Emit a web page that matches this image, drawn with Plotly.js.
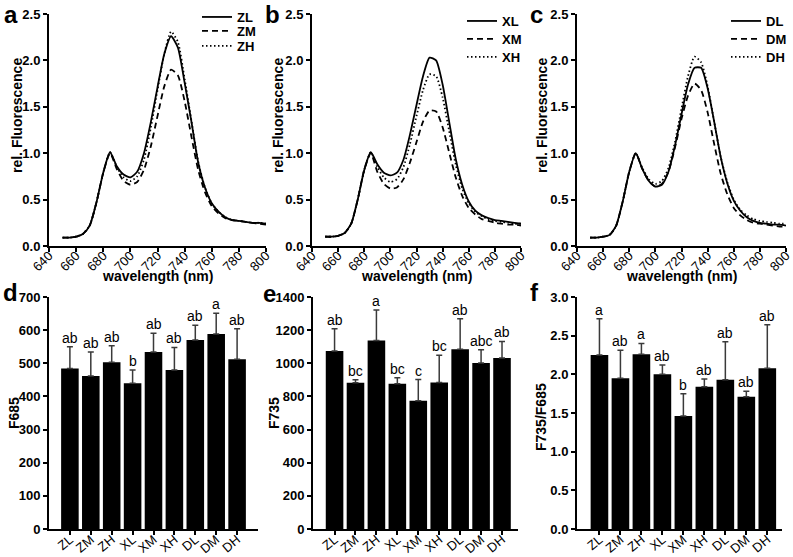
<!DOCTYPE html>
<html>
<head>
<meta charset="utf-8">
<script src="https://cdn.plot.ly/plotly-3.0.1.min.js"></script>
<style>
  html, body { margin: 0; padding: 0; background: #fff; }
  #fig { width: 793px; height: 557px; }
</style>
</head>
<body>
<div id="fig"></div>
<script>
// longitudes de onda (nm)
const wavelength = [650, 655, 660, 665, 670, 675, 680, 685, 690, 695, 700, 705, 710, 715, 720,
    725, 730, 735, 740, 745, 750, 755, 760, 765, 770, 775, 780, 785, 790, 795, 800];

// panel a
const ZL = [0.09, 0.09, 0.10, 0.13, 0.22, 0.47, 0.79, 1.01, 0.86, 0.77, 0.74, 0.80, 1.00, 1.33, 1.71,
    2.07, 2.26, 2.14, 1.76, 1.34, 0.90, 0.63, 0.46, 0.37, 0.31, 0.28, 0.27, 0.26, 0.25, 0.25, 0.24];
const ZM = [0.09, 0.09, 0.10, 0.13, 0.22, 0.47, 0.79, 1.00, 0.83, 0.70, 0.66, 0.69, 0.82, 1.07, 1.40,
    1.72, 1.90, 1.84, 1.56, 1.18, 0.82, 0.58, 0.43, 0.35, 0.30, 0.28, 0.27, 0.26, 0.25, 0.24, 0.23];
const ZH = [0.09, 0.09, 0.10, 0.13, 0.22, 0.47, 0.79, 1.01, 0.85, 0.74, 0.70, 0.75, 0.93, 1.27, 1.68,
    2.07, 2.31, 2.20, 1.80, 1.35, 0.91, 0.63, 0.46, 0.37, 0.31, 0.28, 0.27, 0.26, 0.25, 0.25, 0.24];

// panel b
const XL = [0.10, 0.10, 0.11, 0.14, 0.24, 0.50, 0.82, 1.01, 0.88, 0.79, 0.76, 0.79, 0.93, 1.20, 1.52,
    1.83, 2.03, 2.00, 1.74, 1.34, 0.94, 0.66, 0.48, 0.38, 0.33, 0.30, 0.28, 0.27, 0.26, 0.25, 0.24];
const XM = [0.10, 0.10, 0.11, 0.14, 0.24, 0.50, 0.82, 1.00, 0.80, 0.67, 0.62, 0.63, 0.72, 0.90, 1.12,
    1.34, 1.46, 1.45, 1.28, 1.01, 0.74, 0.54, 0.41, 0.34, 0.29, 0.27, 0.25, 0.24, 0.23, 0.23, 0.22];
const XH = [0.10, 0.10, 0.11, 0.14, 0.24, 0.50, 0.82, 1.01, 0.85, 0.74, 0.69, 0.72, 0.85, 1.10, 1.40,
    1.68, 1.85, 1.83, 1.60, 1.24, 0.88, 0.62, 0.46, 0.37, 0.32, 0.29, 0.27, 0.26, 0.25, 0.24, 0.24];

// panel c
const DL = [0.09, 0.09, 0.10, 0.12, 0.22, 0.48, 0.80, 1.00, 0.83, 0.70, 0.64, 0.66, 0.80, 1.08, 1.42,
    1.74, 1.92, 1.92, 1.70, 1.34, 0.96, 0.68, 0.49, 0.38, 0.31, 0.27, 0.25, 0.24, 0.23, 0.23, 0.22];
const DM = [0.09, 0.09, 0.10, 0.12, 0.22, 0.48, 0.80, 1.00, 0.83, 0.70, 0.64, 0.67, 0.80, 1.06, 1.37,
    1.62, 1.75, 1.68, 1.44, 1.10, 0.78, 0.56, 0.41, 0.33, 0.28, 0.25, 0.24, 0.23, 0.22, 0.21, 0.21];
const DH = [0.09, 0.09, 0.10, 0.12, 0.22, 0.48, 0.80, 1.00, 0.84, 0.72, 0.67, 0.70, 0.84, 1.12, 1.48,
    1.83, 2.04, 1.98, 1.72, 1.34, 0.96, 0.69, 0.50, 0.39, 0.33, 0.29, 0.27, 0.26, 0.25, 0.24, 0.24];

// barras (d, e, f)
const grupos = ['ZL', 'ZM', 'ZH', 'XL', 'XM', 'XH', 'DL', 'DM', 'DH'];
const F685 = [484, 462, 503, 440, 534, 480, 570, 588, 512];
const F685err = [66, 72, 50, 40, 57, 68, 45, 63, 92];
const F685letras = ['ab', 'ab', 'ab', 'b', 'ab', 'ab', 'ab', 'a', 'ab'];

const F735 = [1074, 882, 1138, 876, 774, 884, 1084, 1002, 1032];
const F735err = [134, 18, 184, 36, 128, 164, 184, 80, 100];
const F735letras = ['ab', 'bc', 'a', 'bc', 'c', 'bc', 'ab', 'abc', 'ab'];

const ratio = [2.25, 1.95, 2.26, 2.00, 1.46, 1.84, 1.93, 1.71, 2.08];
const ratioErr = [0.47, 0.36, 0.14, 0.12, 0.29, 0.10, 0.49, 0.07, 0.56];
const ratioLetras = ['a', 'ab', 'a', 'ab', 'b', 'ab', 'ab', 'ab', 'ab'];

const FONT = 'Liberation Sans, Arial, sans-serif';
const W = 793, H = 557;
const px = v => v / W;          // pixel -> paper (x)
const py = v => (H - v) / H;    // pixel -> paper (y)

const estilos = ['solid', '6px,4px', '1.5px,2.5px'];

const espectros = [
    { nombres: ['ZL', 'ZM', 'ZH'], series: [ZL, ZM, ZH], legX: 197, legY: [17, 31, 46], tituloX: 17 },
    { nombres: ['XL', 'XM', 'XH'], series: [XL, XM, XH], legX: 462, legY: [21, 39, 57], tituloX: 278 },
    { nombres: ['DL', 'DM', 'DH'], series: [DL, DM, DH], legX: 726, legY: [21, 39, 57], tituloX: 542 }
];

const data = [];
const layout = {
    width: W, height: H,
    margin: { l: 0, r: 0, t: 0, b: 0 },
    paper_bgcolor: 'white',
    plot_bgcolor: 'white',
    font: { family: FONT, color: 'black', size: 12 },
    showlegend: true,
    annotations: []
};

// ejes base
const ejeBase = {
    showline: true, linecolor: 'black', linewidth: 2,
    ticks: 'outside', ticklen: 4, tickwidth: 2, tickcolor: 'black',
    showgrid: false, zeroline: false, fixedrange: true
};

const dominiosX = [[49, 266], [312, 521], [577, 786]];
const dominiosXBar = [[49, 258], [313, 517.5], [577, 782]];
const rangosBar = [[-1, 9], [-1.03, 8.74], [-1.07, 8.70]];
const filaArriba = [py(246), py(14)];
const filaAbajo = [py(529), py(297)];

function titulo(texto, x, y, vertical) {
    layout.annotations.push({
        xref: 'paper', yref: 'paper',
        x: px(x), y: py(y),
        xanchor: 'center', yanchor: 'middle',
        textangle: vertical ? -90 : 0,
        text: texto, showarrow: false,
        font: { family: FONT, size: 14, weight: 'bold' }
    });
}

// espectros
espectros.forEach((p, k) => {
    const n = k + 1;
    const xa = n === 1 ? 'x' : 'x' + n;
    const ya = n === 1 ? 'y' : 'y' + n;
    p.series.forEach((s, i) => {
        const idx = k * 3 + i + 1;
        const legId = idx === 1 ? 'legend' : 'legend' + idx;
        data.push({
            x: wavelength,
            y: s,
            name: p.nombres[i],
            type: 'scatter',
            mode: 'lines',
            line: { color: 'black', width: 1.8, dash: estilos[i], shape: 'spline', smoothing: 0.6 },
            xaxis: xa, yaxis: ya,
            legend: legId,
            hoverinfo: 'skip'
        });
        layout[legId] = {
            x: px(p.legX), xanchor: 'left',
            y: py(p.legY[i]), yanchor: 'middle',
            bgcolor: 'rgba(0,0,0,0)',
            font: { family: FONT, size: 13, weight: 'bold', color: 'black' }
        };
    });
    layout['xaxis' + (n === 1 ? '' : n)] = Object.assign({}, ejeBase, {
        domain: [px(dominiosX[k][0]), px(dominiosX[k][1])],
        anchor: ya,
        range: [640, 800], dtick: 20, tick0: 640,
        tickangle: -45,
        ticklabelstandoff: -9,
        tickfont: { family: FONT, size: 13, color: 'black' }
    });
    layout['yaxis' + (n === 1 ? '' : n)] = Object.assign({}, ejeBase, {
        domain: filaArriba,
        anchor: xa,
        range: [0, 2.5], dtick: 0.5, tickformat: '.1f',
        tickfont: { family: FONT, size: 13, weight: 'bold', color: 'black' }
    });
    titulo('rel. Fluorescence', p.tituloX, 116, true);
    titulo('wavelength (nm)', (dominiosX[k][0] + dominiosX[k][1]) / 2, 276, false);
});

// barras
const barras = [
    { y: F685, err: F685err, letras: F685letras, titulo: 'F685', rango: [0, 700], dtick: 100, fmt: '', tx: 14, ty: 413 },
    { y: F735, err: F735err, letras: F735letras, titulo: 'F735', rango: [0, 1400], dtick: 200, fmt: '', tx: 274, ty: 413 },
    { y: ratio, err: ratioErr, letras: ratioLetras, titulo: 'F735/F685', rango: [0, 3], dtick: 0.5, fmt: '.1f', tx: 541, ty: 417 }
];

barras.forEach((b, k) => {
    const n = k + 4;
    data.push({
        x: grupos,
        y: b.y,
        type: 'bar',
        width: 0.84,
        marker: { color: 'black', line: { width: 0 } },
        error_y: {
            type: 'data', symmetric: false,
            array: b.err, arrayminus: b.err.map(() => 0),
            color: '#3a3a3a', thickness: 1.5, width: 3
        },
        xaxis: 'x' + n, yaxis: 'y' + n,
        showlegend: false,
        hoverinfo: 'skip'
    });
    layout['xaxis' + n] = Object.assign({}, ejeBase, {
        domain: [px(dominiosXBar[k][0]), px(dominiosXBar[k][1])],
        anchor: 'y' + n,
        type: 'category',
        range: rangosBar[k],
        tickangle: -40,
        ticklabelstandoff: -8,
        tickfont: { family: FONT, size: 13, color: 'black' }
    });
    layout['yaxis' + n] = Object.assign({}, ejeBase, {
        domain: filaAbajo,
        anchor: 'x' + n,
        range: b.rango, dtick: b.dtick, tickformat: b.fmt,
        tickfont: { family: FONT, size: 13, weight: 'bold', color: 'black' }
    });
    titulo(b.titulo, b.tx, b.ty, true);
    grupos.forEach((g, i) => {
        layout.annotations.push({
            xref: 'x' + n, yref: 'y' + n,
            x: g, y: b.y[i] + b.err[i],
            xanchor: 'center', yanchor: 'bottom',
            yshift: -1,
            text: b.letras[i], showarrow: false,
            font: { family: FONT, size: 14, color: 'black' }
        });
    });
});

// letras de los paneles
const paneles = [
    ['a', 2, 14.5], ['b', 263, 14], ['c', 528, 14.5],
    ['d', 1, 292], ['e', 261, 293], ['f', 528, 292]
];
paneles.forEach(([t, x, y]) => {
    layout.annotations.push({
        xref: 'paper', yref: 'paper',
        x: px(x), y: py(y),
        xanchor: 'left', yanchor: 'middle',
        text: t, showarrow: false,
        font: { family: FONT, size: 24, weight: 'bold' }
    });
});

Plotly.newPlot('fig', data, layout, { staticPlot: true, displayModeBar: false });
</script>
</body>
</html>
